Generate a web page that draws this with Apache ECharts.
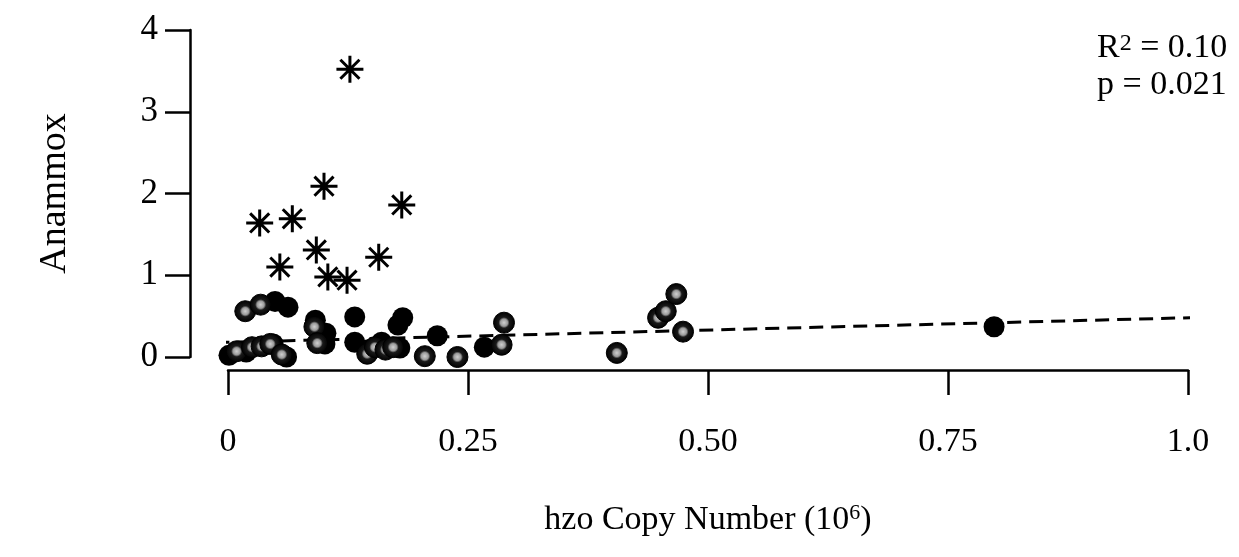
<!DOCTYPE html>
<html>
<head>
<meta charset="utf-8">
<title>Anammox vs hzo copy number</title>
<script src="https://cdn.jsdelivr.net/npm/echarts@6/dist/echarts.min.js"></script>
<style>
  html, body { margin: 0; padding: 0; background: #ffffff; }
  #chart { width: 1239px; height: 557px; }
</style>
</head>
<body>
<div id="chart"></div>
<script>
// hzo copy number (10^6) and anammox rate, three sample groups
const asteriskX = [0.127, 0.100, 0.181, 0.033, 0.067, 0.054, 0.092, 0.104, 0.124, 0.157];
const asteriskY = [3.52, 2.09, 1.86, 1.64, 1.69, 1.10, 1.31, 0.98, 0.94, 1.22];

const solidX = [0.049, 0.0625, 0.001, 0.019, 0.047, 0.061, 0.091, 0.102, 0.101,
                0.132, 0.132, 0.146, 0.160, 0.179, 0.177, 0.182, 0.218, 0.267, 0.798];
const solidY = [0.68, 0.61, 0.02, 0.06, 0.16, 0.00, 0.45, 0.29, 0.16,
                0.49, 0.18, 0.09, 0.18, 0.11, 0.39, 0.48, 0.26, 0.12, 0.37];

const greyX = [0.018, 0.034, 0.009, 0.025, 0.035, 0.044, 0.056, 0.090, 0.093,
               0.145, 0.153, 0.164, 0.172, 0.205, 0.239, 0.285, 0.2875,
               0.405, 0.448, 0.456, 0.467, 0.474];
const greyY = [0.56, 0.64, 0.07, 0.12, 0.13, 0.16, 0.03, 0.37, 0.17,
               0.04, 0.12, 0.09, 0.12, 0.01, 0.00, 0.15, 0.42,
               0.05, 0.48, 0.56, 0.77, 0.31];

// fitted regression line, drawn across the full plotting region
const trendX = [-0.036, 1.04];
const trendY = [0.169, 0.492];

const xTicks = [0, 0.25, 0.5, 0.75, 1.0];
const xTickLabels = ['0', '0.25', '0.50', '0.75', '1.0'];
const yTickLabels = ['0', '1', '2', '3', '4'];

const statR2 = '0.10';
const statP = '0.021';

const zip = (xs, ys) => xs.map((x, i) => [x, ys[i]]);

const FONT = '"Liberation Serif", "DejaVu Serif", serif';

const greyFill = {
  type: 'radial', x: 0.5, y: 0.5, r: 0.5,
  colorStops: [
    { offset: 0, color: '#d0d0d0' },
    { offset: 0.33, color: '#9a9a9a' },
    { offset: 0.5, color: '#1a1a1a' },
    { offset: 1, color: '#000000' }
  ]
};

const asteriskPath = 'path://M0,-10L0,10M-10,0L10,0M-7.07,-7.07L7.07,7.07M-7.07,7.07L7.07,-7.07';

const chart = echarts.init(document.getElementById('chart'), null, { renderer: 'canvas' });

chart.setOption({
  backgroundColor: '#ffffff',
  animation: false,
  grid: { left: 228, right: 51, top: 30, bottom: 200, containLabel: false },
  xAxis: {
    type: 'value',
    min: 0, max: 1, interval: 0.25,
    offset: 13,
    axisLine: { show: true, onZero: false, lineStyle: { color: '#000', width: 2.5 } },
    axisTick: { show: true, length: 25, lineStyle: { color: '#000', width: 2.5 } },
    splitLine: { show: false },
    axisLabel: {
      margin: 55,
      color: '#000',
      fontFamily: FONT,
      fontSize: 34,
      formatter: v => {
        const i = xTicks.findIndex(t => Math.abs(t - v) < 1e-9);
        return i >= 0 ? xTickLabels[i] : '';
      }
    },
    name: '{a|hzo Copy Number (10}{s|6}{a|)}',
    nameLocation: 'middle',
    nameGap: 132,
    nameTextStyle: {
      rich: {
        a: { fontFamily: FONT, fontSize: 34, color: '#000' },
        s: { fontFamily: FONT, fontSize: 22, color: '#000', verticalAlign: 'bottom', padding: [0, 0, 15, 0] }
      }
    }
  },
  yAxis: {
    type: 'value',
    min: 0, max: 4, interval: 1,
    offset: 38,
    axisLine: { show: true, onZero: false, lineStyle: { color: '#000', width: 2.5 } },
    axisTick: { show: true, length: 25, lineStyle: { color: '#000', width: 2.5 } },
    splitLine: { show: false },
    axisLabel: {
      margin: 32,
      color: '#000',
      fontFamily: FONT,
      fontSize: 35,
      formatter: v => yTickLabels[Math.round(v)] ?? ''
    },
    name: 'Anammox',
    nameLocation: 'middle',
    nameGap: 116,
    nameTextStyle: { fontFamily: FONT, fontSize: 38, color: '#000' }
  },
  graphic: [
    {
      type: 'text',
      left: 1097, top: 31,
      style: {
        text: '{a|R}{s|2}{a| = ' + statR2 + '}',
        rich: {
          a: { fontFamily: FONT, fontSize: 34, fill: '#000' },
          s: { fontFamily: FONT, fontSize: 24, fill: '#000', verticalAlign: 'bottom', padding: [0, 0, 9, 0] }
        }
      }
    },
    {
      type: 'text',
      left: 1097, top: 68,
      style: { text: 'p = ' + statP, font: '34px ' + FONT, fill: '#000' }
    }
  ],
  series: [
    {
      type: 'line',
      data: zip(trendX, trendY),
      symbol: 'none',
      clip: false,
      silent: true,
      z: 1,
      lineStyle: { color: '#000', width: 3, type: [14, 8] }
    },
    {
      type: 'scatter',
      data: zip(solidX, solidY),
      symbol: 'circle',
      symbolSize: 21,
      clip: false,
      z: 2,
      itemStyle: { color: '#000', opacity: 1 }
    },
    {
      type: 'scatter',
      data: zip(greyX, greyY),
      symbol: 'circle',
      symbolSize: 21,
      clip: false,
      z: 3,
      itemStyle: { color: greyFill, borderColor: '#000', borderWidth: 1, opacity: 1 }
    },
    {
      type: 'scatter',
      data: zip(asteriskX, asteriskY),
      symbol: asteriskPath,
      symbolSize: 27,
      clip: false,
      z: 4,
      itemStyle: { color: 'transparent', borderColor: '#000', borderWidth: 3, opacity: 1 }
    }
  ]
});
</script>
</body>
</html>
